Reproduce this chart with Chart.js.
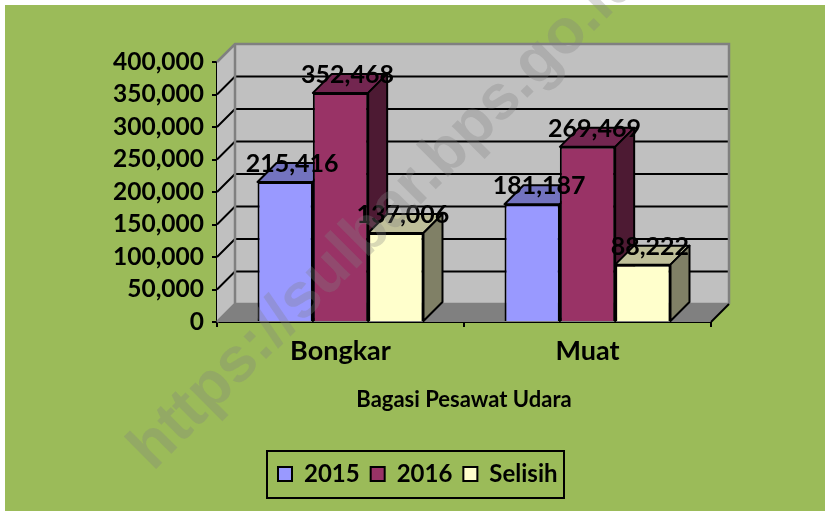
<!DOCTYPE html>
<html>
<head>
<meta charset="utf-8">
<style>
  html, body { margin: 0; padding: 0; background: #fff; }
  #wrap { width: 825px; height: 511px; }
</style>
<script src="https://cdn.jsdelivr.net/npm/chart.js@4"></script>
</head>
<body>
<div id="wrap"><canvas id="bagasiChart" width="825" height="511"></canvas></div>
<script>
const categories = ["Bongkar", "Muat"];
const values2015 = [215416, 181187];
const values2016 = [352468, 269469];
const valuesSelisih = [137006, 88222];
const axisTitle = "Bagasi Pesawat Udara";
const watermark = "https://sulbar.bps.go.id";

const FONT = "Lato, Carlito, sans-serif";
const DEPTH = 18; // kedalaman efek 3D
const BAR_DEPTH = 19;
const LEGEND_BOX = { left: 267, top: 451, right: 564, bottom: 498 };

// warna sisi atas & samping tiap seri
const faceColors = [
  { top: "#7373bf", side: "#4d4d80" },
  { top: "#732650", side: "#4d1a33" },
  { top: "#bfbf99", side: "#808066" },
];

function poly(ctx, pts, fill, stroke, lw) {
  ctx.beginPath();
  pts.forEach((p, i) => (i ? ctx.lineTo(p[0], p[1]) : ctx.moveTo(p[0], p[1])));
  ctx.closePath();
  if (fill) { ctx.fillStyle = fill; ctx.fill(); }
  if (stroke) { ctx.strokeStyle = stroke; ctx.lineWidth = lw; ctx.stroke(); }
}

function drawWalls(chart) {
  const ctx = chart.ctx;
  const { left, right, top, bottom } = chart.chartArea;
  const d = DEPTH;
  ctx.save();
  poly(ctx, [[left, top], [left + d, top - d], [left + d, bottom - d], [left, bottom]], "#c0c0c0");
  poly(ctx, [[left + d, top - d], [right + d, top - d], [right + d, bottom - d], [left + d, bottom - d]], "#c0c0c0");
  poly(ctx, [[left, bottom], [left + d, bottom - d], [right + d, bottom - d], [right, bottom]], "#808080");

  // grid
  const y = chart.scales.y;
  y.ticks.forEach((t) => {
    if (t.value === 0 || t.value === y.max) return;
    const py = y.getPixelForValue(t.value);
    ctx.beginPath();
    ctx.moveTo(left, py);
    ctx.lineTo(left + d, py - d);
    ctx.lineTo(right + d, py - d);
    ctx.strokeStyle = "#000000";
    ctx.lineWidth = 2;
    ctx.stroke();
  });

  // tepi dinding
  ctx.strokeStyle = "#808080";
  ctx.lineWidth = 2.5;
  ctx.beginPath();
  ctx.moveTo(left, top);
  ctx.lineTo(left + d, top - d);
  ctx.lineTo(right + d, top - d);
  ctx.lineTo(right + d, bottom - d);
  ctx.moveTo(left + d, top - d);
  ctx.lineTo(left + d, bottom - d);
  ctx.lineTo(right + d, bottom - d);
  ctx.moveTo(left, bottom);
  ctx.lineTo(left + d, bottom - d);
  ctx.stroke();

  ctx.strokeStyle = "#000000";
  ctx.lineWidth = 2;
  ctx.beginPath();
  ctx.moveTo(right, bottom);
  ctx.lineTo(right + d, bottom - d);
  ctx.stroke();
  ctx.restore();
}

// sisi atas & samping digambar sebelum muka depan tiap seri
function drawBarFaces(chart, index) {
  const ctx = chart.ctx;
  const c = faceColors[index];
  const d = BAR_DEPTH;
  ctx.save();
  ctx.lineJoin = "round";
  chart.getDatasetMeta(index).data.forEach((bar) => {
    const l = bar.x - bar.width / 2;
    const r = bar.x + bar.width / 2;
    poly(ctx, [[l, bar.y], [l + d, bar.y - d], [r + d, bar.y - d], [r, bar.y]], c.top, "#000000", 2);
    poly(ctx, [[r, bar.y], [r + d, bar.y - d], [r + d, bar.base - d], [r, bar.base]], c.side, "#000000", 2);
  });
  ctx.restore();
}

const walls3dPlugin = {
  id: "walls3d",
  beforeDraw: (chart) => {
    const ctx = chart.ctx;
    ctx.save();
    ctx.fillStyle = "#ffffff";
    ctx.fillRect(0, 0, chart.width, chart.height);
    ctx.fillStyle = "#9bbb59";
    ctx.fillRect(5, 5, chart.width - 5, chart.height - 5);
    ctx.restore();
  },
  beforeDatasetsDraw: (chart) => {
    drawWalls(chart);
    // seri digambar kiri ke kanan supaya tumpukan 3D benar
    chart.data.datasets.forEach((ds, i) => {
      drawBarFaces(chart, i);
      chart.getDatasetMeta(i).controller.draw();
    });
  },
  // sudah digambar di atas
  beforeDatasetDraw: () => false,
  afterDatasetsDraw: (chart) => {
    const ctx = chart.ctx;
    ctx.save();
    ctx.font = "bold 25px " + FONT;
    ctx.textAlign = "center";
    ctx.textBaseline = "middle";
    ctx.fillStyle = "#000000";
    chart.data.datasets.forEach((ds, i) => {
      chart.getDatasetMeta(i).data.forEach((bar, j) => {
        ctx.fillText(ds.data[j].toLocaleString("en-US"), bar.x + 7, bar.y - 18);
      });
    });
    ctx.restore();
  },
  afterLayout: (chart) => {
    // posisi legenda
    const lg = chart.legend;
    lg.left = LEGEND_BOX.left;
    lg.right = chart.width;
    lg.top = LEGEND_BOX.top;
  },
  afterDraw: (chart) => {
    const ctx = chart.ctx;
    const b = LEGEND_BOX;
    ctx.save();
    ctx.strokeStyle = "#000000";
    ctx.lineWidth = 2;
    ctx.strokeRect(b.left, b.top, b.right - b.left, b.bottom - b.top);

    // watermark
    ctx.translate(153, 472);
    ctx.rotate(-Math.PI / 4);
    ctx.font = "bold 63px 'Liberation Sans', Arial, sans-serif";
    ctx.textAlign = "left";
    ctx.textBaseline = "alphabetic";
    ctx.fillStyle = "rgba(128, 128, 128, 0.3)";
    ctx.fillText(watermark, 0, 0);
    ctx.restore();
  },
};

new Chart(document.getElementById("bagasiChart").getContext("2d"), {
  type: "bar",
  data: {
    labels: categories,
    datasets: [
      { label: "2015", data: values2015, backgroundColor: "#9999ff", borderColor: "#000000", borderWidth: 2 },
      { label: "2016", data: values2016, backgroundColor: "#993366", borderColor: "#000000", borderWidth: 2 },
      { label: "Selisih", data: valuesSelisih, backgroundColor: "#ffffcc", borderColor: "#000000", borderWidth: 2 },
    ],
  },
  options: {
    responsive: false,
    animation: false,
    devicePixelRatio: 1,
    categoryPercentage: 0.672,
    barPercentage: 1,
    layout: { padding: { top: 62, right: 114, left: 0, bottom: 13 } },
    plugins: {
      legend: {
        display: true,
        position: "bottom",
        align: "start",
        labels: {
          boxWidth: 14,
          boxHeight: 14,
          padding: 11,
          color: "#000000",
          font: { family: FONT, size: 24, weight: "bold" },
        },
      },
      title: { display: false },
      tooltip: { enabled: false },
    },
    scales: {
      x: {
        afterFit: (scale) => { scale.height = 131; },
        grid: { drawOnChartArea: false, drawTicks: true, tickLength: 5, color: "#000000", lineWidth: 2 },
        border: { color: "#000000", width: 2 },
        ticks: { color: "#000000", padding: 8, font: { family: FONT, size: 27, weight: "bold" } },
        title: {
          display: true,
          text: axisTitle,
          color: "#000000",
          padding: { top: 14, bottom: 40 },
          font: { family: FONT, size: 22, weight: "bold" },
        },
      },
      y: {
        min: 0,
        max: 400000,
        afterFit: (scale) => { scale.width = 217; },
        grid: { drawOnChartArea: false, drawTicks: true, tickLength: 5, color: "#000000", lineWidth: 2 },
        border: { color: "#000000", width: 2 },
        ticks: {
          stepSize: 50000,
          autoSkip: false,
          color: "#000000",
          padding: 8,
          font: { family: FONT, size: 24.5, weight: "bold" },
          callback: (v) => v.toLocaleString("en-US"),
        },
      },
    },
  },
  plugins: [walls3dPlugin],
});
</script>
</body>
</html>
